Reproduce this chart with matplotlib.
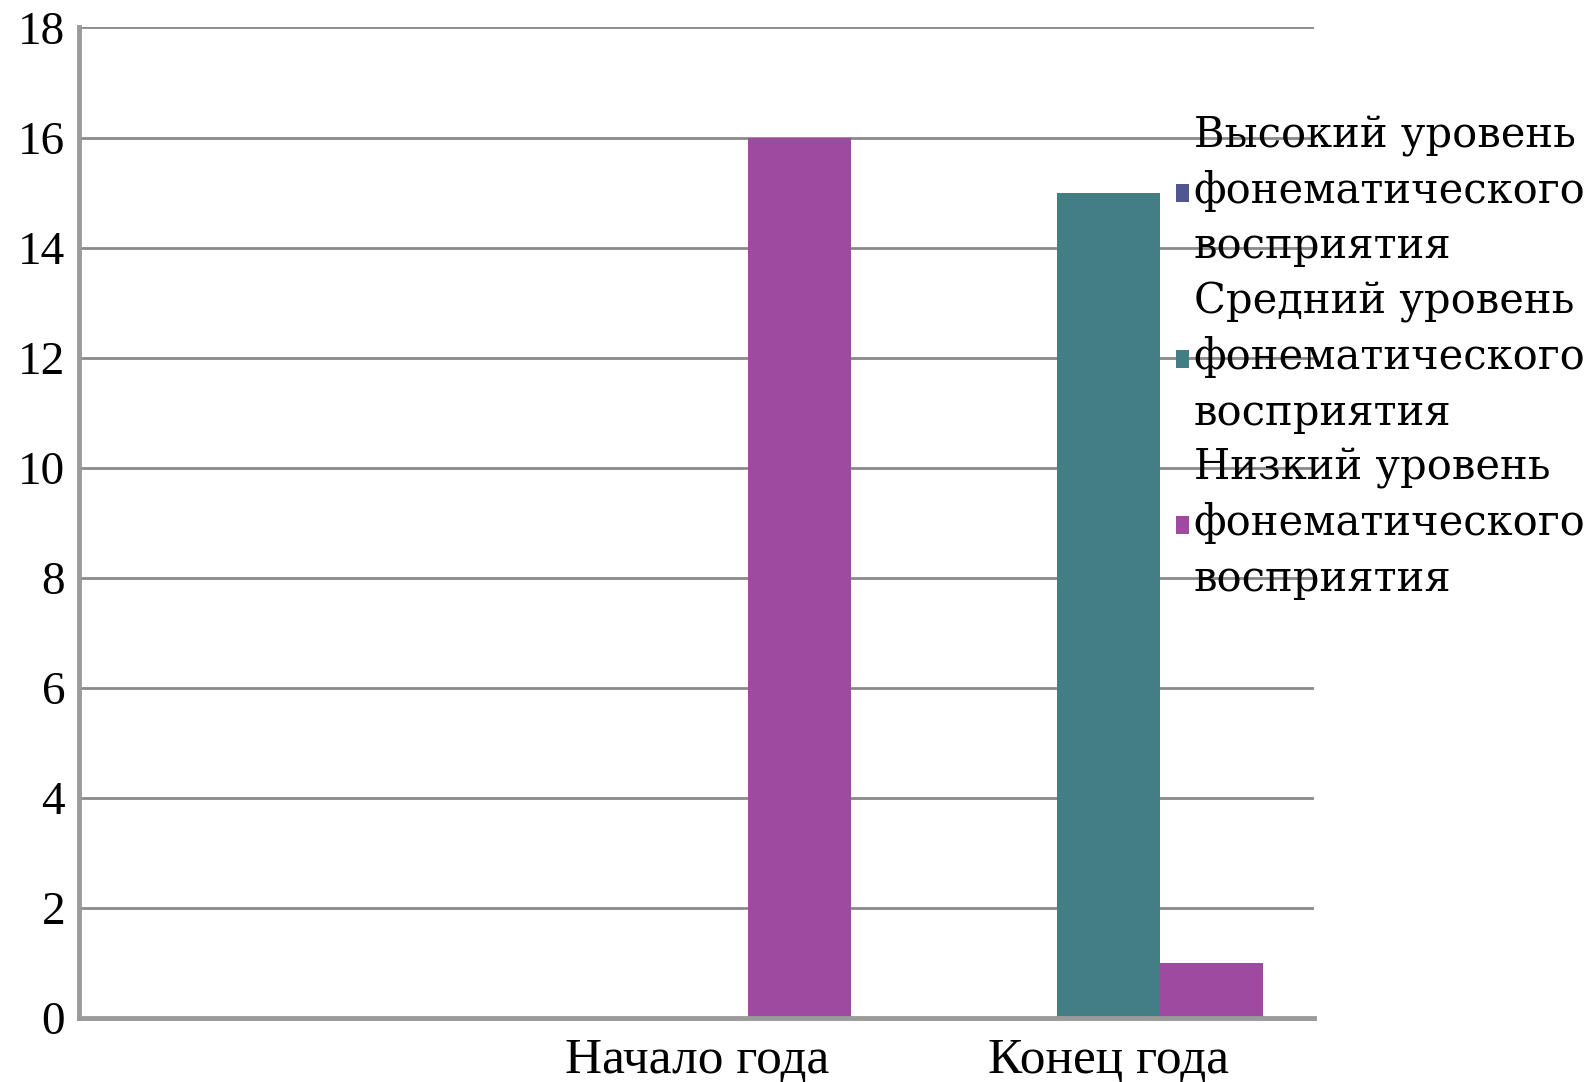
import matplotlib
matplotlib.use("Agg")
import matplotlib.pyplot as plt
import numpy as np

# data
categories = ["", "Начало года", "Конец года"]
series_names = [
	"Высокий уровень\nфонематического\nвосприятия",
	"Средний уровень\nфонематического\nвосприятия",
	"Низкий уровень\nфонематического\nвосприятия",
]
high = [0, 0, 0]
medium = [0, 0, 15]
low = [0, 16, 1]
colors = ["#4F5690", "#427E83", "#9E4AA0"]

plt.rcParams['font.family'] = ['Liberation Serif', 'DejaVu Serif']

fig = plt.figure(figsize=(15.94, 10.82), dpi=100)
ax = fig.add_axes([0.0496, 0.0591, 0.7749, 0.9155])

x = np.arange(len(categories))
width = 0.25
for i, (vals, name, col) in enumerate(zip([high, medium, low], series_names, colors)):
	ax.bar(x + (i - 1) * width, vals, width, color=col, label=name, zorder=2)

ax.set_xlim(-0.5, len(categories) - 0.5)
ax.set_ylim(0, 18)
ax.set_yticks(range(0, 19, 2))
ax.set_xticks(x)
ax.set_xticklabels(categories)
ax.tick_params(axis='both', length=0)
ax.tick_params(axis='y', pad=10, labelsize=34)
ax.tick_params(axis='x', pad=14, labelsize=37)
ax.grid(axis='y', color='#8a8a8a', linewidth=2, zorder=0)
ax.set_axisbelow(True)

for s in ['top', 'right']:
	ax.spines[s].set_visible(False)
for s in ['left', 'bottom']:
	ax.spines[s].set_color('#9a9a9a')
	ax.spines[s].set_linewidth(3.5)

leg = fig.legend(
	loc='upper left',
	bbox_to_anchor=(1176 / 1594, 1 - 115 / 1082),
	frameon=False,
	prop={'family': 'DejaVu Serif', 'size': 30},
	handlelength=0.3,
	handleheight=0.3,
	handletextpad=0.12,
	labelspacing=0.33,
	borderaxespad=0,
	borderpad=0,
)
for t in leg.get_texts():
	t.set_linespacing(1.40)

fig.savefig("out.png", dpi=100)
